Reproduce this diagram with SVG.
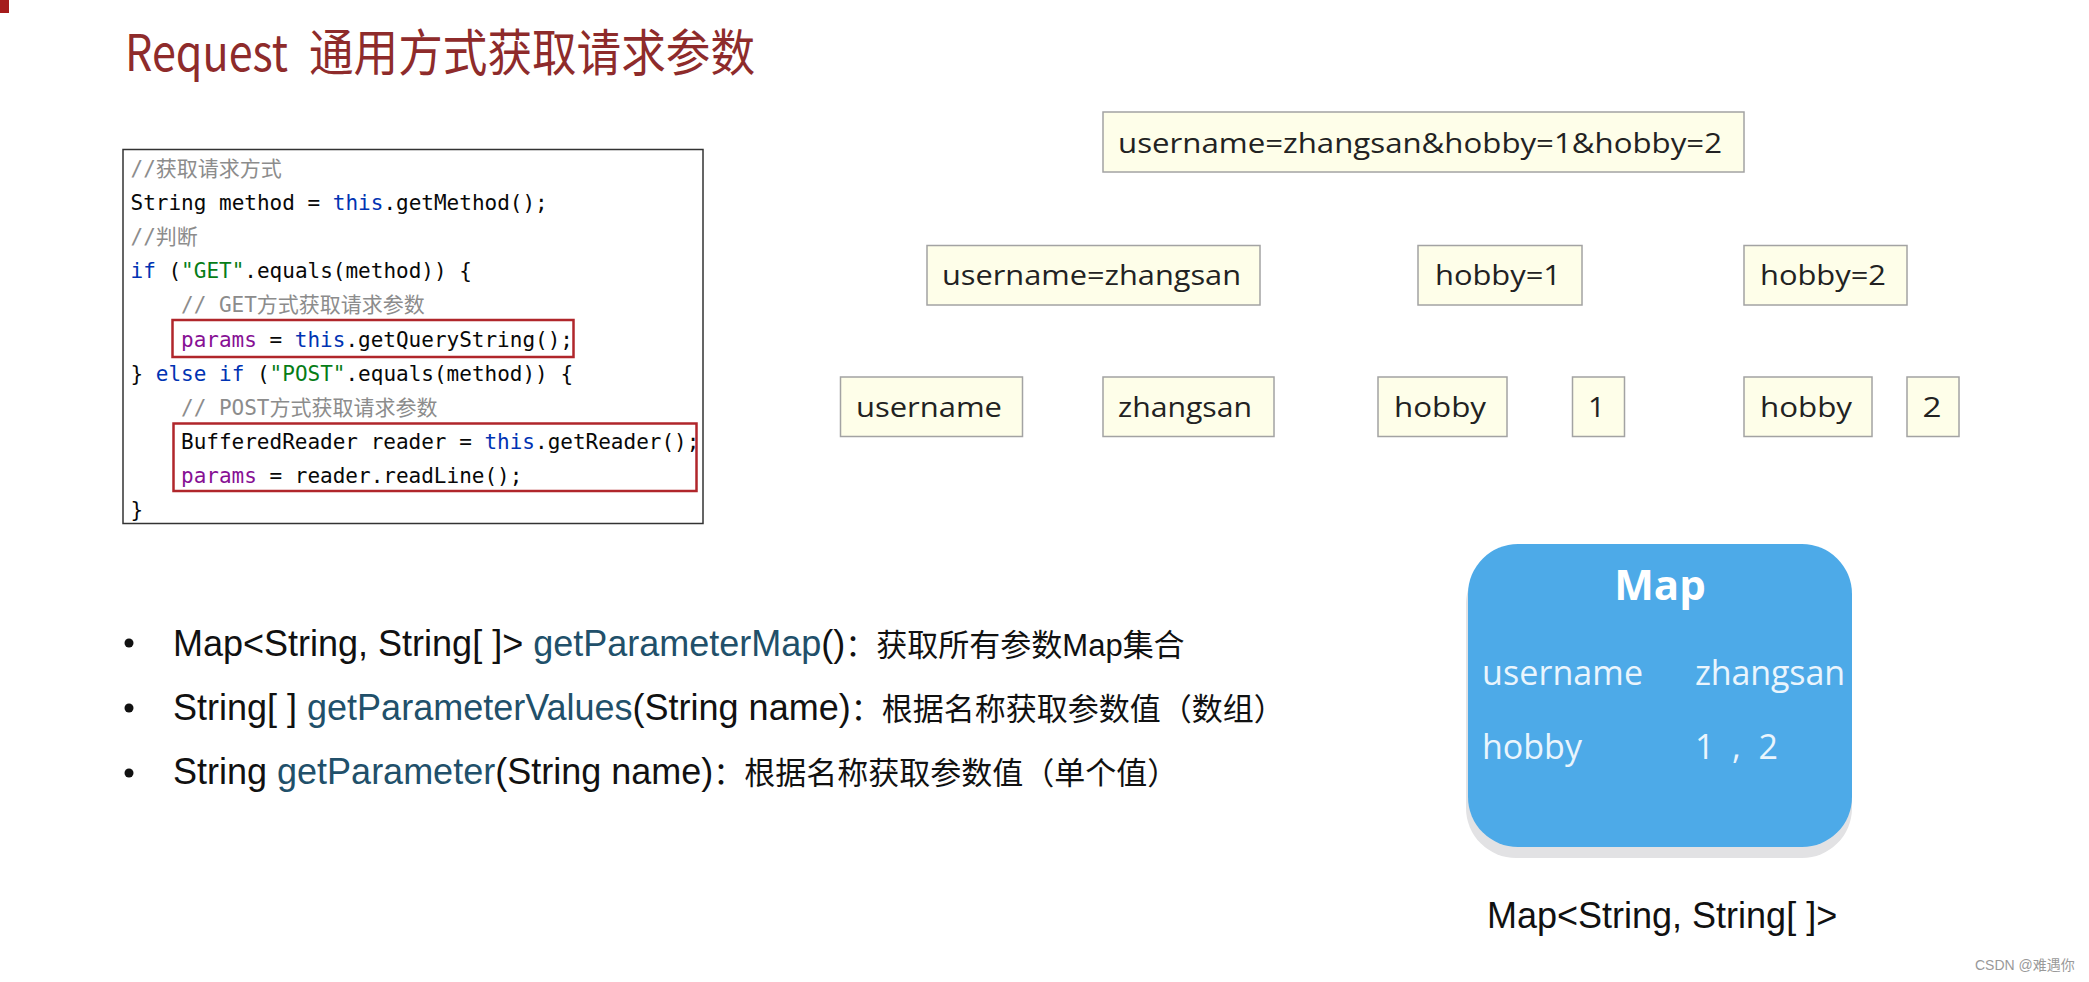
<svg xmlns="http://www.w3.org/2000/svg" width="2089" height="982" viewBox="0 0 2089 982">
<defs>
<style>
.title{font-family:"Noto Sans CJK SC","Liberation Sans",sans-serif;fill:#8E2B2B;font-size:50px}
.code{font-family:"DejaVu Sans Mono","Noto Sans CJK SC",monospace;font-size:21px;fill:#080808}
.cm{fill:#8C8C8C}
.kw{fill:#0033B3}
.st{fill:#067D17}
.pv{fill:#871094}
.box{fill:#FEFEE9;stroke:#A3A3A3;stroke-width:1.5}
.bt{font-family:"Open Sans","Liberation Sans",sans-serif;font-size:28px;fill:#222}
.bl{font-family:"Liberation Sans","Noto Sans CJK SC",sans-serif;font-size:36px;fill:#111}
.cj{font-family:"Noto Sans CJK SC",sans-serif;font-size:31px}
.mt{fill:#21506A}
.hl{fill:none;stroke:#B0262B;stroke-width:2.5}
.mp{font-family:"Open Sans","Liberation Sans",sans-serif;font-size:34px;fill:#EAF5FD}
</style>
</defs>
<rect x="0" y="0" width="2089" height="982" fill="#FFFFFF"/>
<rect x="0" y="0" width="9" height="13" fill="#A51C1C"/>

<g id="title">
<text class="title" x="125" y="71" textLength="163" lengthAdjust="spacingAndGlyphs">Request</text>
<text class="title" x="309" y="71" textLength="446" lengthAdjust="spacingAndGlyphs">通用方式获取请求参数</text>
</g>

<g id="code-box">
<rect x="123" y="149.5" width="580" height="374" fill="#FFFFFF" stroke="#333" stroke-width="1.5"/>
<rect class="hl" x="172.5" y="320" width="401" height="37"/>
<rect class="hl" x="173.5" y="423.5" width="523" height="67.5"/>
<text class="code cm" x="130.5" y="176">//获取请求方式</text>
<text class="code" x="130.5" y="210">String method = <tspan class="kw">this</tspan>.getMethod();</text>
<text class="code cm" x="130.5" y="244">//判断</text>
<text class="code" x="130.5" y="278"><tspan class="kw">if</tspan> (<tspan class="st">"GET"</tspan>.equals(method)) {</text>
<text class="code cm" x="181" y="312">// GET方式获取请求参数</text>
<text class="code" x="181" y="346.5"><tspan class="pv">params</tspan> = <tspan class="kw">this</tspan>.getQueryString();</text>
<text class="code" x="130.5" y="380.5">} <tspan class="kw">else if</tspan> (<tspan class="st">"POST"</tspan>.equals(method)) {</text>
<text class="code cm" x="181" y="415">// POST方式获取请求参数</text>
<text class="code" x="181" y="449">BufferedReader reader = <tspan class="kw">this</tspan>.getReader();</text>
<text class="code" x="181" y="483"><tspan class="pv">params</tspan> = reader.readLine();</text>
<text class="code" x="130.5" y="517">}</text>
</g>

<g id="connectors"></g>

<g id="node-query">
<rect class="box" x="1103" y="112" width="641" height="60"/>
<text class="bt" x="1118" y="153" textLength="604" lengthAdjust="spacingAndGlyphs">username=zhangsan&amp;hobby=1&amp;hobby=2</text>
</g>
<g id="node-pair-username">
<rect class="box" x="927" y="245.5" width="333" height="59.5"/>
<text class="bt" x="942" y="285" textLength="299" lengthAdjust="spacingAndGlyphs">username=zhangsan</text>
</g>
<g id="node-pair-hobby1">
<rect class="box" x="1418" y="245.5" width="164" height="59.5"/>
<text class="bt" x="1435" y="285" textLength="126" lengthAdjust="spacingAndGlyphs">hobby=1</text>
</g>
<g id="node-pair-hobby2">
<rect class="box" x="1744" y="245.5" width="163" height="59.5"/>
<text class="bt" x="1760" y="285" textLength="126" lengthAdjust="spacingAndGlyphs">hobby=2</text>
</g>
<g id="node-key-username">
<rect class="box" x="840.5" y="377" width="182" height="59.5"/>
<text class="bt" x="856" y="417" textLength="146" lengthAdjust="spacingAndGlyphs">username</text>
</g>
<g id="node-val-zhangsan">
<rect class="box" x="1103" y="377" width="171" height="59.5"/>
<text class="bt" x="1118" y="417" textLength="134" lengthAdjust="spacingAndGlyphs">zhangsan</text>
</g>
<g id="node-key-hobby1">
<rect class="box" x="1378" y="377" width="129" height="59.5"/>
<text class="bt" x="1394" y="417" textLength="92" lengthAdjust="spacingAndGlyphs">hobby</text>
</g>
<g id="node-val-1">
<rect class="box" x="1572.5" y="377" width="52" height="59.5"/>
<text class="bt" x="1588" y="417" textLength="17" lengthAdjust="spacingAndGlyphs">1</text>
</g>
<g id="node-key-hobby2">
<rect class="box" x="1744" y="377" width="128" height="59.5"/>
<text class="bt" x="1760" y="417" textLength="92" lengthAdjust="spacingAndGlyphs">hobby</text>
</g>
<g id="node-val-2">
<rect class="box" x="1907" y="377" width="52" height="59.5"/>
<text class="bt" x="1922.5" y="417" textLength="19" lengthAdjust="spacingAndGlyphs">2</text>
</g>

<g id="bullets">
<circle cx="129" cy="643" r="4.5" fill="#111"/>
<circle cx="129" cy="708" r="4.5" fill="#111"/>
<circle cx="129" cy="773" r="4.5" fill="#111"/>
<text class="bl" x="173" y="656">Map&lt;String, String[ ]&gt; <tspan class="mt">getParameterMap</tspan>()<tspan class="cj">：获取所有参数</tspan><tspan font-size="31">Map</tspan><tspan class="cj">集合</tspan></text>
<text class="bl" x="173" y="720">String[ ] <tspan class="mt">getParameterValues</tspan>(String name)<tspan class="cj">：根据名称获取参数值（数组）</tspan></text>
<text class="bl" x="173" y="784">String <tspan class="mt">getParameter</tspan>(String name)<tspan class="cj">：根据名称获取参数值（单个值）</tspan></text>
</g>

<g id="map-node">
<rect x="1466" y="554" width="386" height="304" rx="50" fill="#E2E2E4"/>
<rect x="1468" y="544" width="384" height="303" rx="50" fill="#4DAAE8"/>
<text x="1660" y="600" text-anchor="middle" font-family="'Open Sans','Liberation Sans',sans-serif" font-weight="bold" font-size="42" fill="#FFFFFF">Map</text>
<text class="mp" x="1482" y="685" textLength="161">username</text>
<text class="mp" x="1695" y="685" textLength="150">zhangsan</text>
<text class="mp" x="1482" y="759">hobby</text>
<text class="mp" x="1695" y="759" xml:space="preserve" textLength="83">1 , 2</text>
</g>

<g id="map-label">
<text class="bl" x="1487" y="928">Map&lt;String, String[ ]&gt;</text>
</g>

<text x="1975" y="970" font-family="'Liberation Sans','Noto Sans CJK SC',sans-serif" font-size="14" fill="#999">CSDN @难遇你</text>
</svg>
